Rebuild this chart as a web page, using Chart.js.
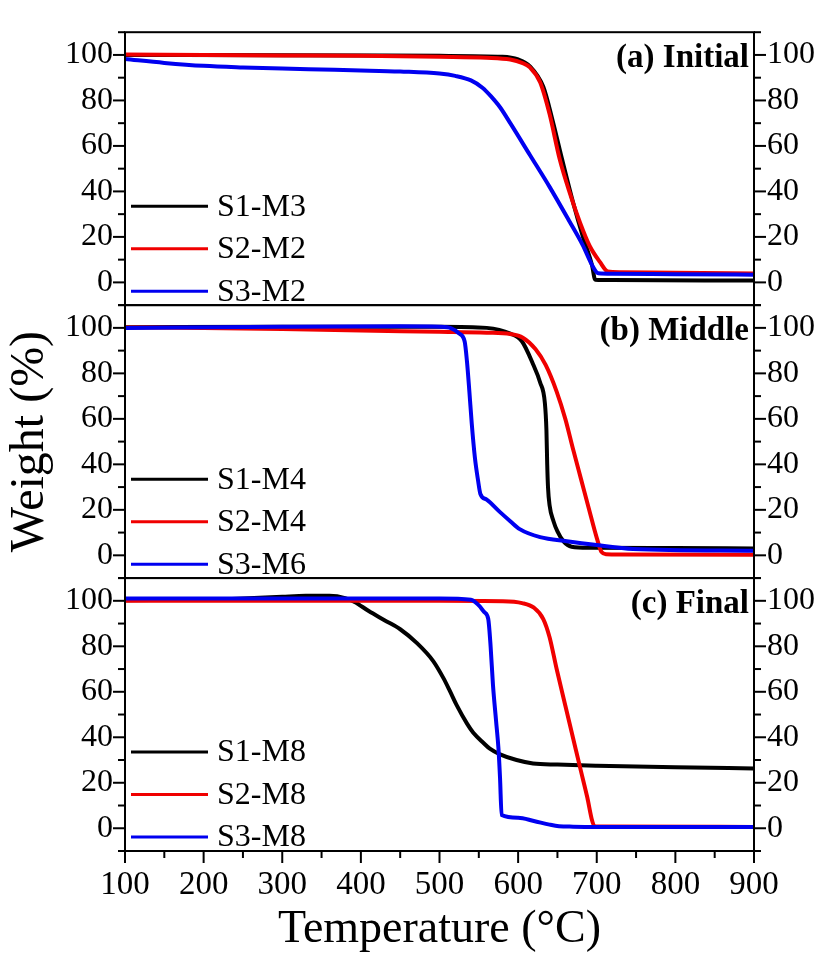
<!DOCTYPE html>
<html>
<head>
<meta charset="utf-8">
<script src="https://cdn.jsdelivr.net/npm/chart.js@4.4.0/dist/chart.umd.min.js"></script>
<style>
html,body{margin:0;padding:0;background:#fff;}
#wrap{width:827px;height:958px;position:relative;}
</style>
</head>
<body>
<div id="wrap"><canvas id="c" width="827" height="958"></canvas></div>
<script>
// ---- tick labels / texts ----
const xTicks = [100, 200, 300, 400, 500, 600, 700, 800, 900];
const yTicks = [0, 20, 40, 60, 80, 100];
const panelTitles = ['(a) Initial', '(b) Middle', '(c) Final'];
const namesA = ['S1-M3', 'S2-M2', 'S3-M2'];
const namesB = ['S1-M4', 'S2-M4', 'S3-M6'];
const namesC = ['S1-M8', 'S2-M8', 'S3-M8'];
const xTitle = 'Temperature (\u00B0C)';
const yTitle = 'Weight (%)';

// ---- panel (a) Initial ----
const tA1 = [100, 300, 500, 580, 600, 615, 632, 644, 656, 670, 682, 694, 698, 720, 900];
const wA1 = [100, 99.9, 99.6, 99.2, 98, 95, 86, 71, 54, 35, 20.5, 7.5, 1.2, 1, 0.8];
const tA2 = [100, 200, 300, 400, 500, 560, 590, 605, 615, 628, 640, 653, 666, 679, 691, 704, 714, 730, 800, 900];
const wA2 = [100.2, 100, 99.8, 99.6, 99.2, 98.8, 98, 96.5, 94.5, 88, 74, 54, 39, 26, 16, 9, 4.8, 4.5, 4.2, 3.9];
const tA3 = [100, 150, 200, 250, 300, 350, 400, 450, 500, 520, 540, 555, 565, 577, 590, 615, 640, 665, 682, 695, 702, 720, 800, 900];
const wA3 = [98.2, 96.5, 95.2, 94.5, 94, 93.6, 93.2, 92.7, 91.8, 90.8, 88.8, 85.5, 82, 77, 70, 56, 42, 27, 16.5, 7, 4, 3.8, 3.6, 3.4];

// ---- panel (b) Middle ----
const tB1 = [100, 300, 500, 560, 590, 605, 619, 628, 634, 636, 637, 638, 640, 645, 650, 658, 668, 690, 800, 900];
const wB1 = [100.3, 100.5, 100.5, 100, 97.5, 94, 84, 76, 67, 55, 40, 30, 22, 15, 10.5, 6, 3.8, 3.3, 3.2, 3.0];
const tB2 = [100, 200, 300, 400, 500, 560, 590, 606, 622, 635, 649, 660, 670, 680, 690, 700, 706, 712, 730, 900];
const wB2 = [100.2, 100, 99.5, 98.8, 98.3, 97.9, 97.3, 95.7, 90.7, 83.7, 72, 60, 46.5, 33.5, 20.5, 7.7, 1.5, 0.5, 0.4, 0.3];
const tB3 = [100, 300, 450, 500, 515, 525, 532, 535, 538, 541, 545, 549, 552, 560, 577, 590, 602, 628, 662, 700, 746, 900];
const wB3 = [100, 100.5, 100.7, 100.5, 99.8, 97.5, 94, 85, 72, 58, 43, 33, 27, 24.5, 19, 15, 11.5, 8, 6.2, 4.5, 2.8, 2];

// ---- panel (c) Final ----
const tC1 = [100, 200, 250, 300, 330, 360, 380, 392, 410, 430, 450, 471, 492, 505, 513, 522, 535, 543, 556, 564, 577, 598, 619, 650, 700, 800, 900];
const wC1 = [100.3, 100.5, 101, 101.8, 102.2, 102.2, 101.2, 99.5, 95.5, 91.5, 87.5, 81.5, 73.5, 66, 60.5, 54, 46, 42, 37.5, 35, 32.5, 30, 28.5, 28, 27.5, 26.8, 26.3];
const tC2 = [100, 300, 500, 580, 605, 620, 632, 640, 649, 660, 670, 680, 688, 694, 697, 700, 900];
const wC2 = [100, 100, 100, 99.8, 99, 97, 92, 84, 70, 54, 39.5, 25, 13.5, 3.5, 1, 0.8, 0.6];
const tC3 = [100, 300, 500, 540, 550, 557, 562, 565, 568, 572, 575, 577, 579, 600, 620, 640, 652, 670, 700, 900];
const wC3 = [101, 101, 101, 100.5, 98, 95, 92, 80, 63, 47, 35, 22, 5.8, 4.6, 3.2, 1.6, 0.9, 0.7, 0.6, 0.6];

const colors = ['#000000', '#f00000', '#0000f0'];
const FONT = "'Liberation Serif','Times New Roman',serif";

const pts = (t, w) => t.map((v, i) => ({x: v, y: w[i]}));
const panels = [
  {axis: 'yA', names: namesA, data: [[tA1, wA1], [tA2, wA2], [tA3, wA3]]},
  {axis: 'yB', names: namesB, data: [[tB1, wB1], [tB2, wB2], [tB3, wB3]]},
  {axis: 'yC', names: namesC, data: [[tC1, wC1], [tC2, wC2], [tC3, wC3]]}
];

const datasets = [];
panels.forEach(p => {
  p.data.forEach((d, i) => {
    datasets.push({
      label: p.names[i],
      data: pts(d[0], d[1]),
      yAxisID: p.axis,
      borderColor: colors[i],
      backgroundColor: colors[i],
      borderWidth: 4,
      pointRadius: 0,
      showLine: true,
      cubicInterpolationMode: 'monotone',
      borderJoinStyle: 'round',
      borderCapStyle: 'round',
      order: 3 - i
    });
  });
});

function yScale(weight, pos, title) {
  return {
    type: 'linear', position: pos, stack: pos === 'left' ? 'L' : 'R', weight: weight,
    min: -10, max: 110,
    grid: {display: false, drawTicks: false},
    border: {display: false},
    afterBuildTicks: s => { s.ticks = yTicks.map(v => ({value: v})); },
    afterFit: s => { s.width = pos === 'left' ? 125 : 73; },
    ticks: {font: {family: FONT, size: 32}, color: '#000', padding: pos === 'left' ? 12 : 13, autoSkip: false},
    title: title ? {display: true, text: title, color: '#000', font: {family: FONT, size: 48}, padding: {top: 2, bottom: 0}} : {display: false}
  };
}

const framePlugin = {
  id: 'frame',
  afterDraw(chart) {
    const ctx = chart.ctx, ca = chart.chartArea, xs = chart.scales.x;
    const line = (x1, y1, x2, y2) => { ctx.beginPath(); ctx.moveTo(x1, y1); ctx.lineTo(x2, y2); ctx.stroke(); };
    ctx.save();
    ctx.strokeStyle = '#000';
    ctx.fillStyle = '#000';
    ctx.lineWidth = 2;
    panels.forEach((p, pi) => {
      const ys = chart.scales[p.axis];
      const top = ys.getPixelForValue(110), bot = ys.getPixelForValue(-10);
      ctx.lineWidth = 2;
      ctx.strokeRect(ca.left, top, ca.right - ca.left, bot - top);
      for (let v = -10; v <= 110; v += 10) {
        const y = ys.getPixelForValue(v);
        const len = yTicks.includes(v) ? 12 : 7;
        line(ca.left - len, y, ca.left, y);
        line(ca.right, y, ca.right + len, y);
      }
      ctx.font = 'bold 33px ' + FONT;
      ctx.textAlign = 'right';
      ctx.textBaseline = 'middle';
      ctx.fillText(panelTitles[pi], ca.right - 5, ys.getPixelForValue(98.5));
      // legend
      ctx.font = '32px ' + FONT;
      ctx.textAlign = 'left';
      p.names.forEach((n, i) => {
        const y = ys.top + 174 + i * 42.5;
        ctx.strokeStyle = colors[i];
        ctx.lineWidth = 3;
        line(ca.left + 6, y, ca.left + 83, y);
        ctx.fillText(n, ca.left + 92, y + 1);
      });
      ctx.strokeStyle = '#000';
    });
    ctx.lineWidth = 2;
    for (let v = 100; v <= 900; v += 50) {
      const x = xs.getPixelForValue(v);
      const len = xTicks.includes(v) ? 12 : 7;
      line(x, ca.bottom, x, ca.bottom + len);
    }
    ctx.restore();
  }
};

new Chart(document.getElementById('c'), {
  type: 'scatter',
  data: {datasets},
  options: {
    responsive: false,
    animation: false,
    devicePixelRatio: 1,
    layout: {padding: {top: 11, left: 0, right: 0, bottom: 0}},
    plugins: {legend: {display: false}, tooltip: {enabled: false}},
    scales: {
      x: {
        type: 'linear', position: 'bottom', min: 100, max: 900,
        grid: {display: false, drawTicks: false},
        border: {display: false},
        afterBuildTicks: s => { s.ticks = xTicks.map(v => ({value: v})); },
        afterFit: s => { s.height = 107; },
        ticks: {font: {family: FONT, size: 33}, color: '#000', padding: 15, autoSkip: false, maxRotation: 0},
        title: {display: true, text: xTitle, color: '#000', font: {family: FONT, size: 46}, padding: {top: 0, bottom: 0}}
      },
      yA: yScale(3, 'left'),
      yB: yScale(2, 'left', yTitle),
      yC: yScale(1, 'left'),
      yAr: yScale(3, 'right'),
      yBr: yScale(2, 'right'),
      yCr: yScale(1, 'right')
    }
  },
  plugins: [framePlugin]
});
</script>
</body>
</html>
